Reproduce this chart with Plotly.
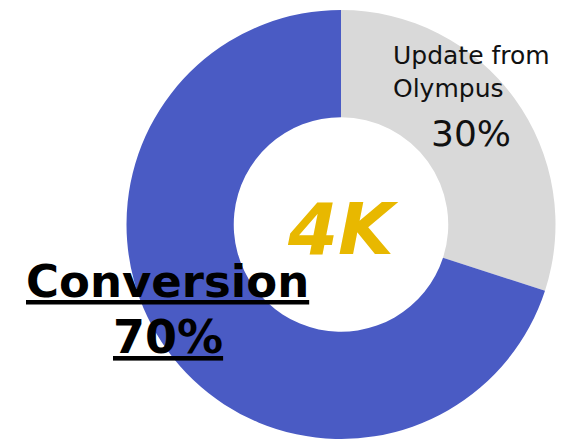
import plotly.graph_objects as go

W, H = 567, 439

categories = ["Update from Olympus", "Conversion"]
values = [30, 70]
colors = ["#d9d9d9", "#4a5bc4"]

def px(x):
    return x / W

def py(y):
    return 1 - y / H

fig = go.Figure(go.Pie(
    labels=categories,
    values=values,
    hole=0.5,
    sort=False,
    direction="clockwise",
    rotation=0,
    marker=dict(colors=colors, line=dict(width=0)),
    textinfo="none",
    hoverinfo="label+percent",
    showlegend=False,
    domain=dict(x=[125 / W, 557 / W], y=[0, 1 - 10 / H]),
))

font_reg = "DejaVu Sans, Verdana, sans-serif"

annots = [
    dict(text="Update from<br>Olympus", x=px(391), y=py(72), xanchor="left", yanchor="middle",
         align="left", font=dict(family=font_reg, size=25, color="#111111")),
    dict(text=f"{values[0]}%", x=px(471), y=py(134), xanchor="center", yanchor="middle",
         font=dict(family=font_reg, size=36, color="#111111")),
    dict(text="<b><u>Conversion</u></b>", x=px(167), y=py(281), xanchor="center", yanchor="middle",
         font=dict(family=font_reg, size=45, color="#000000")),
    dict(text=f"<b><u>{values[1]}%</u></b>", x=px(168), y=py(337), xanchor="center", yanchor="middle",
         font=dict(family=font_reg, size=46, color="#000000")),
    dict(text="<b><i>4K</i></b>", x=px(343), y=py(229), xanchor="center", yanchor="middle",
         font=dict(family=font_reg, size=72, color="#e8b800")),
]

for a in annots:
    a.update(xref="paper", yref="paper", showarrow=False)

fig.update_layout(
    width=W, height=H,
    margin=dict(l=0, r=0, t=0, b=0),
    paper_bgcolor="white",
    plot_bgcolor="white",
    annotations=annots,
)

fig.write_html("out.html", config={"displayModeBar": False},
               post_script="document.body.style.margin='0';")
